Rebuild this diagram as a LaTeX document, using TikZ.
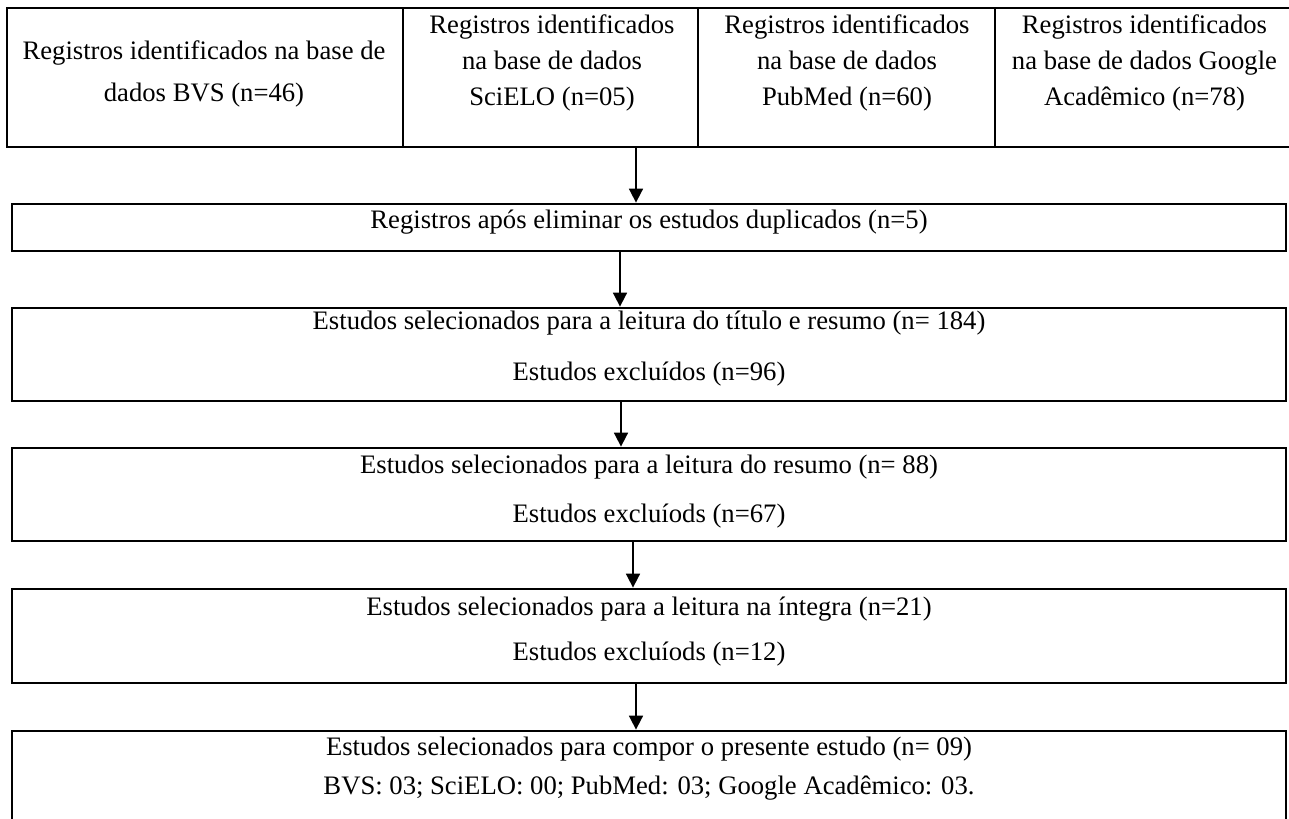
\documentclass[tikz,border=0pt]{standalone}
\usepackage{fontspec}
\setmainfont{Liberation Serif}
\usetikzlibrary{arrows.meta}
\newlength\upx
\setlength\upx{0.75pt}
\begin{document}
\begin{tikzpicture}[x=0.75pt,y=-0.75pt,
  cell/.style={draw=black,line width=2.1pt,rectangle,inner sep=0pt,minimum height=139\upx},
  stage/.style={draw=black,line width=2.1pt,rectangle,inner sep=0pt,minimum width=1274\upx},
  txt/.style={anchor=base,inner sep=0pt,font=\fontsize{20}{24}\selectfont,text=black},
  arr/.style={line width=1.3pt,-{Triangle[length=10.5pt,width=10.5pt]}}]
\useasboundingbox (0,0) rectangle (1289,818);
\clip (0,0) rectangle (1289,818);
\fill[white] (0,0) rectangle (1289,818);
% top row
\node[cell,minimum width=396\upx] (c1) at (205,77.5) {};
\node[cell,minimum width=295\upx] (c2) at (550.5,77.5) {};
\node[cell,minimum width=297\upx] (c3) at (846.5,77.5) {};
\node[cell,minimum width=299\upx] (c4) at (1144.5,77.5) {};
\node[txt] (t1a) at (204,59) {Registros identificados na base de};
\node[txt] (t1b) at (204,101) {dados BVS (n=46)};
\node[txt] (t2a) at (552,33) {Registros identificados};
\node[txt] (t2b) at (552,69) {na base de dados};
\node[txt] (t2c) at (552,105) {SciELO (n=05)};
\node[txt] (t3a) at (847,33) {Registros identificados};
\node[txt] (t3b) at (847,69) {na base de dados};
\node[txt] (t3c) at (847,105) {PubMed (n=60)};
\node[txt] (t4a) at (1144.5,33) {Registros identificados};
\node[txt] (t4b) at (1144.5,69) {na base de dados Google};
\node[txt] (t4c) at (1144.5,105) {Acadêmico (n=78)};
% stages
\node[stage,minimum height=47\upx] (b2) at (649,227.5) {};
\node[stage,minimum height=93\upx] (b3) at (649,354.5) {};
\node[stage,minimum height=93\upx] (b4) at (649,494.5) {};
\node[stage,minimum height=94\upx] (b5) at (649,636) {};
\node[stage,minimum height=110\upx] (b6) at (649,786) {};
\node[txt] (s2a) at (649,228) {Registros após eliminar os estudos duplicados (n=5)};
\node[txt] (s3a) at (649,329) {Estudos selecionados para a leitura do título e resumo (n= 184)};
\node[txt] (s3b) at (649,380) {Estudos excluídos (n=96)};
\node[txt] (s4a) at (649,473) {Estudos selecionados para a leitura do resumo (n= 88)};
\node[txt] (s4b) at (649,522) {Estudos excluíods (n=67)};
\node[txt] (s5a) at (649,615) {Estudos selecionados para a leitura na íntegra (n=21)};
\node[txt] (s5b) at (649,660) {Estudos excluíods (n=12)};
\node[txt] (s6a) at (649,755) {Estudos selecionados para compor o presente estudo (n= 09)};
\node[txt] (s6b) at (649,794) {BVS: 03; SciELO: 00; PubMed: 03; Google Acadêmico: 03.};
% arrows
\coordinate (a1) at (636,0);
\coordinate (a2) at (620,0);
\coordinate (a3) at (621,0);
\coordinate (a4) at (633,0);
\coordinate (a5) at (636,0);
\draw[arr] (c2.south -| a1) -- (b2.north -| a1);
\draw[arr] (b2.south -| a2) -- (b3.north -| a2);
\draw[arr] (b3.south -| a3) -- (b4.north -| a3);
\draw[arr] (b4.south -| a4) -- (b5.north -| a4);
\draw[arr] (b5.south -| a5) -- (b6.north -| a5);
\end{tikzpicture}
\end{document}
